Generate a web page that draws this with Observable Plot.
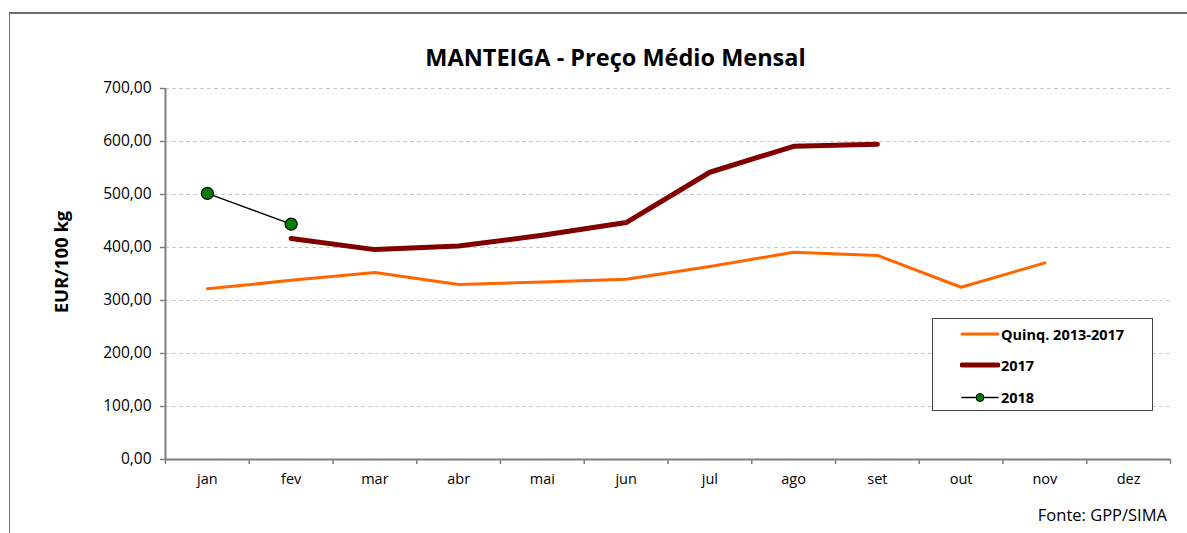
<!DOCTYPE html>
<html>
<head>
<meta charset="utf-8">
<script src="https://cdn.jsdelivr.net/npm/d3@7"></script>
<script src="https://cdn.jsdelivr.net/npm/@observablehq/plot@0.6"></script>
<style>
  html, body { margin: 0; padding: 0; background: #fff; }
  #wrap { position: relative; width: 1187px; height: 533px; overflow: hidden; font-family: "Open Sans", sans-serif; }
  #frame { position: absolute; left: 9px; top: 12px; width: 1200px; height: 600px; border-top: 2px solid #6e6e6e; border-left: 1.5px solid #6e6e6e; }
  #title { position: absolute; left: 0; width: 1231px; top: 41px; text-align: center; font-weight: 700; font-size: 23.5px; color: #000; line-height: 32px; }
  #ylab { position: absolute; left: 60px; top: 262px; transform: translate(-50%, -50%) rotate(-90deg); font-weight: 700; font-size: 18.5px; white-space: nowrap; }
  #src { position: absolute; right: 20px; top: 503px; font-size: 16.5px; color: #000; }
  #legend { position: absolute; left: 932px; top: 318px; width: 221px; height: 93px; border: 1px solid #444; background: #fff; box-sizing: border-box; }
  .li { position: absolute; left: 0; height: 20px; display: flex; align-items: center; font-weight: 700; font-size: 14.5px; }
  .li svg { margin-left: 27px; }
  svg.plot { position: absolute; left: 0; top: 0; }
</style>
</head>
<body>
<div id="wrap">
  <div id="frame"></div>
  <div id="title">MANTEIGA - Preço Médio Mensal</div>
  <div id="ylab">EUR/100 kg</div>
  <div id="src">Fonte: GPP/SIMA</div>
</div>
<script>
const months = ["jan","fev","mar","abr","mai","jun","jul","ago","set","out","nov","dez"];
const quinq = [322, 338, 353, 330, 335, 340, 364, 391, 385, 325, 371, null];
const y2017 = [null, 417, 396, 403, 423, 447, 542, 591, 595, null, null, null];
const y2018 = [502, 444, null, null, null, null, null, null, null, null, null, null];
const yTicks = [0, 100, 200, 300, 400, 500, 600, 700];

const seriesNames = ["Quinq. 2013-2017", "2017", "2018"];
const colors = ["#ff6600", "#800000", "#000000"];

const toRows = (arr) => arr.map((v, i) => ({i, x: i + 0.5, v})).filter(d => d.v != null);
const rQ = toRows(quinq), r17 = toRows(y2017), r18 = toRows(y2018);
const fmt = d => d.toFixed(2).replace(".", ",");

const chart = Plot.plot({
  width: 1187,
  height: 533,
  marginLeft: 165,
  marginRight: 17,
  marginTop: 88,
  marginBottom: 74,
  style: {fontFamily: "Open Sans, sans-serif", fontSize: "13px", color: "#000", background: "transparent"},
  x: {domain: [0, 12], axis: null},
  y: {domain: [0, 700], axis: null},
  marks: [
    Plot.gridY(yTicks.filter(t => t > 0), {stroke: "#c8c8c8", strokeOpacity: 1, strokeDasharray: "4,3", strokeWidth: 1}),
    Plot.axisY(yTicks, {tickSize: 5, tickPadding: 9, tickFormat: fmt, stroke: "#808080", strokeWidth: 1.5, fontSize: 15.5, label: null}),
    Plot.axisX(d3.range(13), {tickSize: 5, tickFormat: () => "", stroke: "#808080", strokeWidth: 1.5, label: null}),
    Plot.axisX(months.map((m, i) => i + 0.5), {tickSize: 0, tickPadding: 14, tickFormat: d => months[Math.floor(d)], fontSize: 14.5, label: null}),
    Plot.ruleX([0], {stroke: "#808080", strokeWidth: 2}),
    Plot.ruleY([0], {stroke: "#808080", strokeWidth: 2}),
    Plot.line(rQ, {x: "x", y: "v", stroke: colors[0], strokeWidth: 3}),
    Plot.line(r17, {x: "x", y: "v", stroke: colors[1], strokeWidth: 5, strokeLinecap: "round"}),
    Plot.line(r18, {x: "x", y: "v", stroke: colors[2], strokeWidth: 1.3}),
    Plot.dot(r18, {x: "x", y: "v", r: 6, fill: "#008000", stroke: "#000", strokeWidth: 1.2})
  ]
});
document.getElementById("wrap").appendChild(chart);

// legend
const legend = document.createElement("div");
legend.id = "legend";
const tops = [5, 36, 68];
seriesNames.forEach((name, k) => {
  const row = document.createElement("div");
  row.className = "li";
  row.style.top = tops[k] + "px";
  const w = [3, 5, 1.5][k];
  const dot = k === 2 ? `<circle cx="20" cy="10.5" r="4" fill="#008000" stroke="#000" stroke-width="1"/>` : "";
  const yy = k === 2 ? 10.5 : 10;
  row.innerHTML = `<svg width="40" height="20"><line x1="2" x2="38" y1="${yy}" y2="${yy}" stroke="${colors[k]}" stroke-width="${w}" stroke-linecap="round"/>${dot}</svg><span style="margin-left:1px">${name}</span>`;
  legend.appendChild(row);
});
document.getElementById("wrap").appendChild(legend);
</script>
</body>
</html>
